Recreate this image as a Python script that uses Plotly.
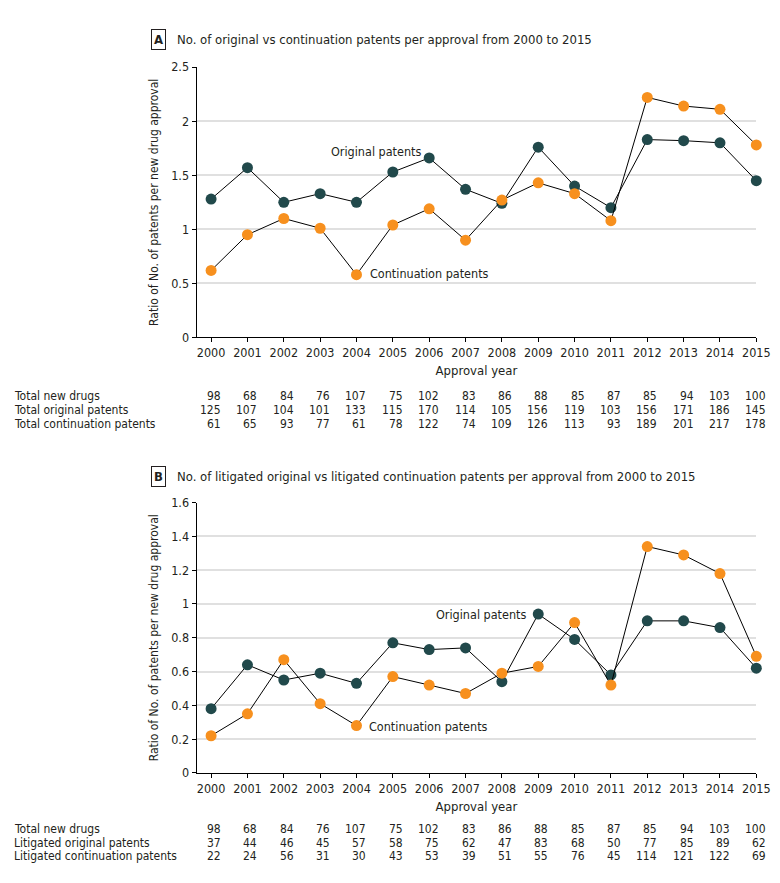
import plotly.graph_objects as go

# Approval years on the x axis
years = list(range(2000, 2016))

# Panel A: ratio of patents per new drug approval
orig_ratio_a = [1.28, 1.57, 1.25, 1.33, 1.25, 1.53, 1.66, 1.37, 1.24, 1.76, 1.40, 1.20, 1.83, 1.82, 1.80, 1.45]
cont_ratio_a = [0.62, 0.95, 1.10, 1.01, 0.58, 1.04, 1.19, 0.90, 1.27, 1.43, 1.33, 1.08, 2.22, 2.14, 2.11, 1.78]

# Panel B: litigated patents per new drug approval
orig_ratio_b = [0.38, 0.64, 0.55, 0.59, 0.53, 0.77, 0.73, 0.74, 0.54, 0.94, 0.79, 0.58, 0.90, 0.90, 0.86, 0.62]
cont_ratio_b = [0.22, 0.35, 0.67, 0.41, 0.28, 0.57, 0.52, 0.47, 0.59, 0.63, 0.89, 0.52, 1.34, 1.29, 1.18, 0.69]

# Table rows under each panel
total_new_drugs = [98, 68, 84, 76, 107, 75, 102, 83, 86, 88, 85, 87, 85, 94, 103, 100]
total_original = [125, 107, 104, 101, 133, 115, 170, 114, 105, 156, 119, 103, 156, 171, 186, 145]
total_continuation = [61, 65, 93, 77, 61, 78, 122, 74, 109, 126, 113, 93, 189, 201, 217, 178]
lit_original = [37, 44, 46, 45, 57, 58, 75, 62, 47, 83, 68, 50, 77, 85, 89, 62]
lit_continuation = [22, 24, 56, 31, 30, 43, 53, 39, 51, 55, 76, 45, 114, 121, 122, 69]

W, H = 780, 883
FONT = "Liberation Sans Narrow, DejaVu Sans Condensed, Arial Narrow, sans-serif"
TXT = "#231f20"
TEAL = "#21494b"
ORANGE = "#f7901e"


def py(pix):
    # pixel row -> paper y
    return 1 - pix / H


fig = go.Figure()

# series for both panels
for xa, ya, orig, cont in [("x", "y", orig_ratio_a, cont_ratio_a),
                           ("x2", "y2", orig_ratio_b, cont_ratio_b)]:
    for vals, col in [(orig, TEAL), (cont, ORANGE)]:
        fig.add_trace(go.Scatter(
            x=years, y=vals, xaxis=xa, yaxis=ya, mode="lines+markers",
            line=dict(color="black", width=1),
            marker=dict(color=col, size=11),
            cliponaxis=False, showlegend=False, hoverinfo="skip"
        ))

xax = dict(range=[1999.6, 2015], tickvals=years, showgrid=False, zeroline=False,
           showline=True, linecolor="black", linewidth=1, ticks="outside", ticklen=4,
           tickcolor="black", tickfont=dict(size=12.5, color=TXT, family=FONT),
           title=dict(text="Approval year", font=dict(size=13, color=TXT, family=FONT), standoff=6),
           domain=[192 / W, 762 / W], fixedrange=True)
yax = dict(showgrid=True, gridcolor="#e0e0e0", gridwidth=1.5, zeroline=False,
           showline=True, linecolor="black", linewidth=1, ticks="outside", ticklen=4,
           tickcolor="black", tickfont=dict(size=12.5, color=TXT, family=FONT),
           title=dict(text="Ratio of No. of patents per new drug approval",
                      font=dict(size=12, color=TXT, family=FONT), standoff=9))

fig.update_layout(
    width=W, height=H, margin=dict(l=0, r=0, t=0, b=0),
    paper_bgcolor="white", plot_bgcolor="white",
    font=dict(family=FONT, color=TXT),
    xaxis=dict(xax, anchor="y"),
    yaxis=dict(yax, range=[0, 2.5], dtick=0.5, tickformat="~g", domain=[py(327), py(52)], anchor="x"),
    xaxis2=dict(xax, anchor="y2"),
    yaxis2=dict(yax, range=[0, 1.6], dtick=0.2, tickformat="~g", domain=[py(770), py(495)], anchor="x2"),
)

ann = []

# panel titles with boxed letter
for letter, title, ypix in [("A", "No. of original vs continuation patents per approval from 2000 to 2015", 24),
                            ("B", "No. of litigated original vs litigated continuation patents per approval from 2000 to 2015", 468)]:
    ann.append(dict(text="<b>%s</b>" % letter, x=146 / W, y=py(ypix), xref="paper", yref="paper",
                    xanchor="left", yanchor="middle", showarrow=False,
                    font=dict(size=13, color=TXT, family=FONT),
                    bordercolor=TXT, borderwidth=1, borderpad=2))
    ann.append(dict(text=title, x=170 / W, y=py(ypix), xref="paper", yref="paper",
                    xanchor="left", yanchor="middle", showarrow=False,
                    font=dict(size=13, color=TXT, family=FONT)))

# series labels
lab = dict(size=12.5, color=TXT, family=FONT)
ann.append(dict(text="Original patents", x=2004.55, y=1.72, xref="x", yref="y",
                xanchor="center", yanchor="middle", showarrow=False, font=lab))
ann.append(dict(text="Continuation patents", x=2004.33, y=0.59, xref="x", yref="y",
                xanchor="left", yanchor="middle", showarrow=False, font=lab))
ann.append(dict(text="Original patents", x=2008.72, y=0.935, xref="x2", yref="y2",
                xanchor="right", yanchor="middle", showarrow=False, font=lab))
ann.append(dict(text="Continuation patents", x=2004.3, y=0.276, xref="x2", yref="y2",
                xanchor="left", yanchor="middle", showarrow=False, font=lab))

# tables under the panels
tables = [
    ("x", [("Total new drugs", total_new_drugs, 387),
           ("Total original patents", total_original, 401),
           ("Total continuation patents", total_continuation, 415)]),
    ("x2", [("Total new drugs", total_new_drugs, 827),
            ("Litigated original patents", lit_original, 841),
            ("Litigated continuation patents", lit_continuation, 855)]),
]
tf = dict(size=12, color=TXT, family=FONT)
for xr, rows in tables:
    for label, vals, ypix in rows:
        ann.append(dict(text=label, x=4 / W, y=py(ypix), xref="paper", yref="paper",
                        xanchor="left", yanchor="middle", showarrow=False, font=tf))
        for yr, v in zip(years, vals):
            ann.append(dict(text=str(v), x=yr, y=py(ypix), xref=xr, yref="paper",
                            xanchor="right", yanchor="middle", xshift=12,
                            showarrow=False, font=tf))

fig.update_layout(annotations=ann)

fig.write_html("out.html")
